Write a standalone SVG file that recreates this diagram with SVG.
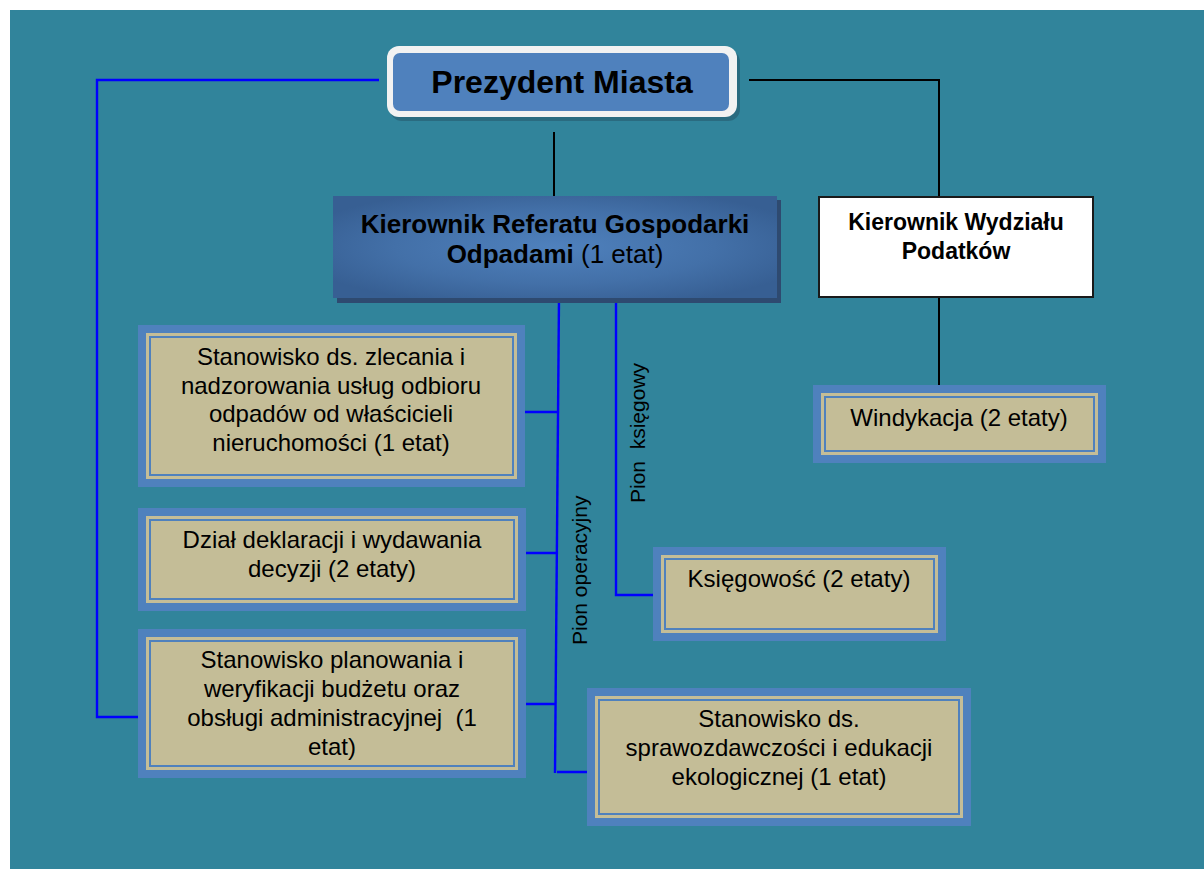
<svg xmlns="http://www.w3.org/2000/svg" width="1204" height="869" viewBox="0 0 1204 869">
<defs>
<radialGradient id="kg" cx="0.5" cy="0.5" r="0.6">
<stop offset="0" stop-color="#4F81BD"/>
<stop offset="0.6" stop-color="#4370A8"/>
<stop offset="1" stop-color="#375F93"/>
</radialGradient>
<style>
.t{font-family:"Liberation Sans",Arial,sans-serif;fill:#000}
.bx{font-size:24px;text-anchor:middle}
.ob{fill:#4F81BD}
.tan{fill:#C4BD97}
.ln{fill:none;stroke:#4F81BD;stroke-width:2}
.blue{fill:none;stroke:#0000FF;stroke-width:2.4}
.blk{fill:none;stroke:#000;stroke-width:2}
</style>
</defs>
<rect x="0" y="0" width="1204" height="869" fill="#FFFFFF"/>
<rect x="10" y="10" width="1194" height="859" fill="#31849B"/>

<g id="connectors">
<polyline class="blue" points="379,80 97,80 97,717 138,717"/>
<polyline class="blk" points="749,80 939,80 939,197"/>
<line class="blk" x1="554" y1="132" x2="554" y2="196"/>
<line class="blk" x1="939" y1="297" x2="939" y2="391"/>
<line class="blue" x1="559" y1="297" x2="555" y2="773"/>
<line class="blue" x1="520" y1="412" x2="558" y2="412"/>
<line class="blue" x1="518" y1="553" x2="557" y2="553"/>
<line class="blue" x1="517" y1="704" x2="556" y2="704"/>
<line class="blue" x1="557" y1="772" x2="590" y2="772"/>
<polyline class="blue" points="616,297 616,595 653,595"/>
<text class="t" font-size="21" transform="translate(587,645) rotate(-90)">Pion operacyjny</text>
<text class="t" font-size="21" style="white-space:pre" transform="translate(645,503) rotate(-90)">Pion  księgowy</text>
</g>

<g id="prezydent">
<rect x="390" y="50" width="350" height="71" rx="12" fill="#2A6B80"/>
<rect x="387" y="46" width="350" height="71" rx="12" fill="#F2F2F2"/>
<rect x="393" y="53" width="336" height="58" rx="7" fill="#4F81BD"/>
<text class="t" x="562" y="93" font-size="32" font-weight="bold" text-anchor="middle">Prezydent Miasta</text>
</g>

<g id="kierownik-referatu">
<rect x="337" y="200" width="444" height="103" fill="#2E4A70"/>
<rect x="333" y="196" width="444" height="102" fill="url(#kg)"/>
<text class="t" x="555" y="233" font-size="26" font-weight="bold" text-anchor="middle">Kierownik Referatu Gospodarki</text>
<text class="t" x="555" y="263" font-size="26" text-anchor="middle"><tspan font-weight="bold">Odpadami</tspan> (1 etat)</text>
</g>

<g id="kierownik-wydzialu">
<rect x="819" y="197" width="274" height="100" fill="#FFFFFF" stroke="#1A1A1A" stroke-width="2"/>
<text class="t" x="956" y="230" font-size="23" font-weight="bold" text-anchor="middle">Kierownik Wydziału</text>
<text class="t" x="956" y="259" font-size="23" font-weight="bold" text-anchor="middle">Podatków</text>
</g>

<g id="windykacja">
<rect class="ob" x="813" y="385" width="293" height="78"/>
<rect class="tan" x="821" y="393" width="277" height="62"/>
<rect class="ln" x="825" y="397" width="269" height="54"/>
<text class="t bx" x="959" y="426">Windykacja (2 etaty)</text>
</g>

<g id="zlecanie">
<rect class="ob" x="138" y="325" width="387" height="162"/>
<rect class="tan" x="146" y="333" width="371" height="146"/>
<rect class="ln" x="150" y="337" width="363" height="138"/>
<text class="t bx" x="331" y="365">Stanowisko ds. zlecania i</text>
<text class="t bx" x="331" y="393.5">nadzorowania usług odbioru</text>
<text class="t bx" x="331" y="422">odpadów od właścicieli</text>
<text class="t bx" x="331" y="450.5">nieruchomości (1 etat)</text>
</g>

<g id="deklaracje">
<rect class="ob" x="138" y="508" width="388" height="103"/>
<rect class="tan" x="146" y="516" width="372" height="87"/>
<rect class="ln" x="150" y="520" width="364" height="79"/>
<text class="t bx" x="332" y="548">Dział deklaracji i wydawania</text>
<text class="t bx" x="332" y="577">decyzji (2 etaty)</text>
</g>

<g id="planowanie">
<rect class="ob" x="138" y="629" width="388" height="149"/>
<rect class="tan" x="146" y="637" width="372" height="133"/>
<rect class="ln" x="150" y="641" width="364" height="125"/>
<text class="t bx" x="332" y="668">Stanowisko planowania i</text>
<text class="t bx" x="332" y="697">weryfikacji budżetu oraz</text>
<text class="t bx" x="332" y="726" style="white-space:pre">obsługi administracyjnej  (1</text>
<text class="t bx" x="332" y="755">etat)</text>
</g>

<g id="ksiegowosc">
<rect class="ob" x="653" y="547" width="293" height="94"/>
<rect class="tan" x="661" y="555" width="277" height="78"/>
<rect class="ln" x="665" y="559" width="269" height="70"/>
<text class="t bx" x="799" y="587">Księgowość (2 etaty)</text>
</g>

<g id="sprawozdawczosc">
<rect class="ob" x="587" y="688" width="384" height="138"/>
<rect class="tan" x="595" y="696" width="368" height="122"/>
<rect class="ln" x="599" y="700" width="360" height="114"/>
<text class="t bx" x="779" y="727">Stanowisko ds.</text>
<text class="t bx" x="779" y="756">sprawozdawczości i edukacji</text>
<text class="t bx" x="779" y="785">ekologicznej (1 etat)</text>
</g>
</svg>
